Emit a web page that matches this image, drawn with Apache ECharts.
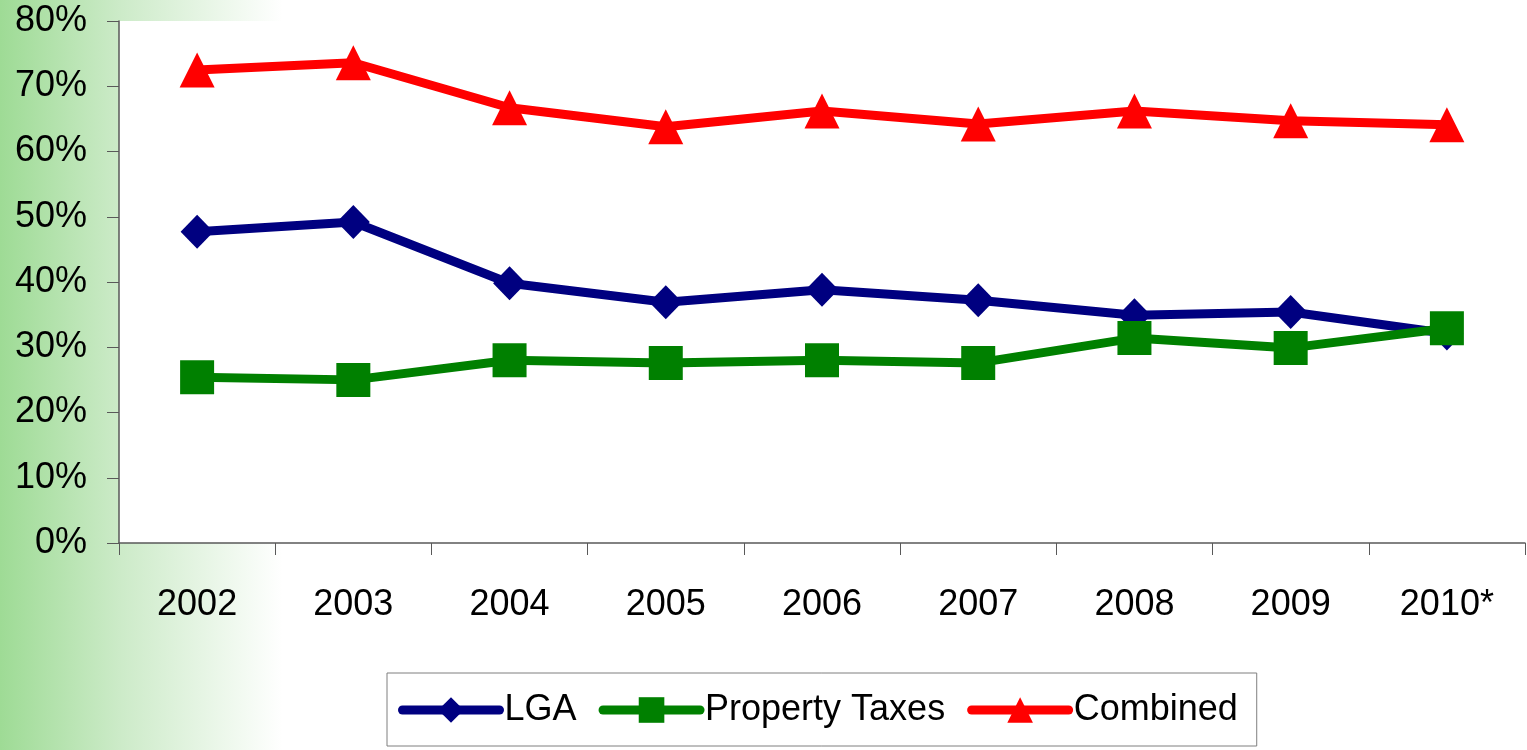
<!DOCTYPE html>
<html>
<head>
<meta charset="utf-8">
<script src="https://cdn.jsdelivr.net/npm/echarts@6/dist/echarts.min.js"></script>
<style>
    html,body{margin:0;padding:0;}
    #main{width:1527px;height:750px;}
</style>
</head>
<body>
<div id="main"></div>
<script>
    // data
    const years = ['2002','2003','2004','2005','2006','2007','2008','2009','2010*'];
    const lga = [47.7, 49.2, 39.8, 36.9, 38.8, 37.2, 34.9, 35.4, 32.1];
    const propertyTaxes = [25.4, 25.0, 28.0, 27.6, 28.0, 27.6, 31.4, 29.9, 32.9];
    const combined = [72.5, 73.6, 66.7, 63.8, 66.2, 64.2, 66.2, 64.7, 64.1];

    const font = 'Liberation Sans, Arial, sans-serif';

    let line = (name, data, color, symbol, size) => {
        return {
            name: name,
            type: 'line',
            data: data,
            symbol: symbol,
            symbolSize: size,
            showAllSymbol: true,
            lineStyle: { color: color, width: 9, cap: 'round', join: 'round' },
            itemStyle: { color: color, borderWidth: 0 },
            emphasis: { disabled: true },
            animation: false
        }
    }

    let chart = echarts.init(document.getElementById('main'));
    chart.setOption({
        backgroundColor: {
            type: 'linear', x: 0, y: 0, x2: 1, y2: 0,
            colorStops: [
                { offset: 0, color: '#9edb95' },
                { offset: 0.08, color: '#cdebc9' },
                { offset: 0.185, color: '#ffffff' },
                { offset: 1, color: '#ffffff' }
            ]
        },
        grid: {
            left: 119,
            right: 2,
            top: 21,
            bottom: 207,
            show: true,
            backgroundColor: '#ffffff',
            borderWidth: 0
        },
        legend: {
            left: 387,
            top: 673,
            width: 900,
            padding: [19, 19, 18, 11],
            borderColor: '#7f7f7f',
            borderWidth: 1,
            backgroundColor: '#ffffff',
            itemWidth: 97,
            itemHeight: 32,
            itemGap: 22,
            lineStyle: { width: 9, cap: 'round' },
            textStyle: { fontFamily: font, fontSize: 36, color: '#000' },
            data: ['LGA', 'Property Taxes', 'Combined']
        },
        xAxis: {
            type: 'category',
            data: years,
            boundaryGap: true,
            axisLine: { lineStyle: { color: '#595959', width: 1.5 } },
            axisTick: { show: true, length: 12, lineStyle: { color: '#595959' } },
            axisLabel: { fontFamily: font, fontSize: 36, color: '#000', margin: 44 }
        },
        yAxis: {
            type: 'value',
            min: 0,
            max: 80,
            interval: 10,
            splitLine: { show: false },
            axisLine: { show: true, lineStyle: { color: '#595959', width: 1.5 } },
            axisTick: { show: true, length: 12, lineStyle: { color: '#595959' } },
            axisLabel: {
                fontFamily: font, fontSize: 36, color: '#000', margin: 32,
                formatter: '{value}%'
            }
        },
        series: [
            line('LGA', lga, '#000080', 'diamond', [33, 34]),
            line('Property Taxes', propertyTaxes, '#008000', 'rect', [34, 34]),
            line('Combined', combined, '#ff0000', 'triangle', [35, 35])
        ]
    });
</script>
</body>
</html>
